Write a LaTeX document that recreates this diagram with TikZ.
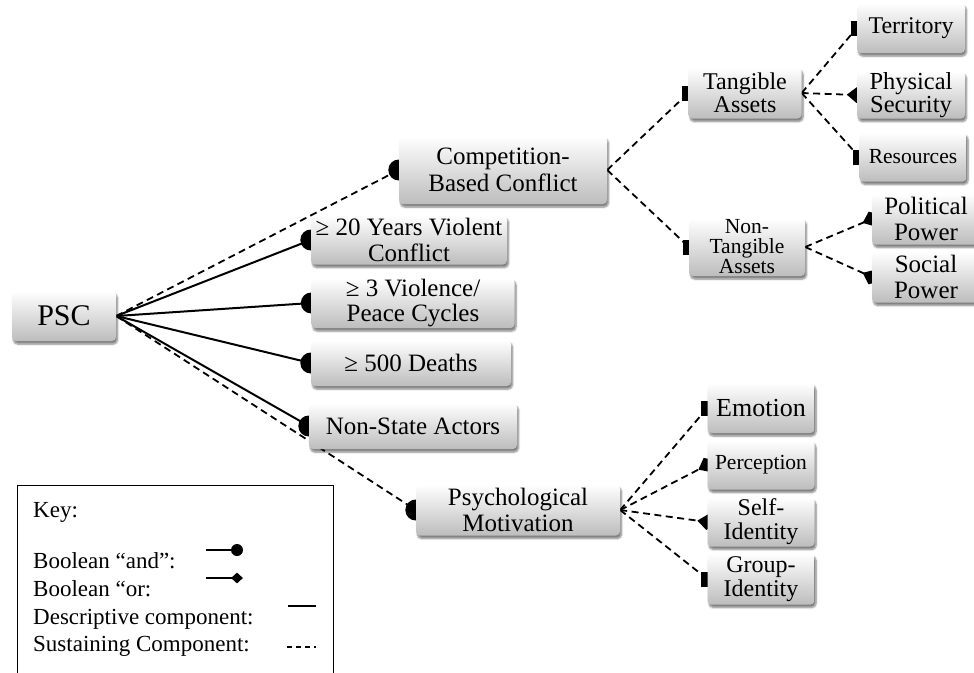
\documentclass[tikz,border=0pt]{standalone}
\usepackage{fontspec}
\setmainfont{Liberation Serif}
\usetikzlibrary{arrows.meta,shadows.blur,backgrounds,shapes.geometric}
\begin{document}
\begin{tikzpicture}[x=1pt,y=-1pt,
  box/.style={rounded corners=4pt, top color=white, bottom color=black!26,
    align=center, inner sep=1pt,
    blur shadow={shadow xshift=1.5pt, shadow yshift=-3pt, shadow blur steps=6, shadow opacity=50},
    font=\fontsize{25}{25.5}\selectfont},
  smallbox/.style={box, font=\fontsize{21.5}{20}\selectfont},
  descr/.style={line width=2pt},
  sust/.style={line width=1.8pt, dash pattern=on 7pt off 4.5pt},
  andbig/.style={circle, fill=black, minimum size=21pt, inner sep=0pt},
  andsmall/.style={rectangle, fill=black, minimum width=12pt, minimum height=15pt, inner sep=0pt},
  ortip/.style={-{Diamond[length=20pt,width=16pt]}, shorten >=-10pt},
  keytext/.style={anchor=base west, inner sep=0pt, font=\fontsize{23}{23}\selectfont}
]
\useasboundingbox (0,0) rectangle (974,672);
\clip (0,0) rectangle (974,672);

% boxes
\node[box, minimum width=104pt, minimum height=50pt, font=\fontsize{30}{30}\selectfont] (psc) at (64,316) {PSC};
\node[box, minimum width=208pt, minimum height=68pt, font=\fontsize{25}{27}\selectfont] (comp) at (503,170) {Competition-\\Based Conflict};
\node[box, minimum width=196pt, minimum height=49pt] (y20) at (409,240) {≥ 20 Years Violent\\Conflict};
\node[box, minimum width=203pt, minimum height=50pt] (y3) at (413,303) {≥ 3 Violence/\\Peace Cycles};
\node[box, minimum width=200pt, minimum height=46pt] (d500) at (411,363) {≥ 500 Deaths};
\node[box, minimum width=208pt, minimum height=46pt] (nsa) at (413,426) {Non-State Actors};
\node[box, minimum width=204pt, minimum height=51pt] (psych) at (518,510) {Psychological\\Motivation};
\node[box, minimum width=113pt, minimum height=51pt, font=\fontsize{24}{23}\selectfont] (tang) at (745,93) {Tangible\\Assets};
\node[smallbox, minimum width=116pt, minimum height=58pt] (ntang) at (747,247) {Non-\\Tangible\\Assets};
\node[box, minimum width=108pt, minimum height=50pt, font=\fontsize{24}{23}\selectfont] (terr) at (911,28) {Territory};
\node[box, minimum width=108pt, minimum height=47pt, font=\fontsize{24.5}{23}\selectfont] (phys) at (911,95) {Physical\\Security};
\node[smallbox, minimum width=107pt, minimum height=49pt] (res) at (913,157) {Resources};
\node[box, minimum width=108pt, minimum height=51pt] (pol) at (926,219) {Political\\Power};
\node[box, minimum width=108pt, minimum height=51pt] (soc) at (926,277) {Social\\Power};
\node[box, minimum width=107pt, minimum height=50pt, font=\fontsize{26}{25}\selectfont] (emo) at (761,408) {Emotion};
\node[smallbox, minimum width=107pt, minimum height=49pt] (perc) at (761,465) {Perception};
\node[box, minimum width=107pt, minimum height=49pt, font=\fontsize{24}{24}\selectfont] (self) at (761,522) {Self-\\Identity};
\node[box, minimum width=107pt, minimum height=51pt, font=\fontsize{24}{24}\selectfont] (grp) at (761,579) {Group-\\Identity};

% connectors and marks behind the boxes
\begin{scope}[on background layer]
  \draw[sust] (psc.east) -- (comp.west);
  \draw[descr] (psc.east) -- (y20.west);
  \draw[descr] (psc.east) -- (y3.west);
  \draw[descr] (psc.east) -- (d500.west);
  \draw[descr] (psc.east) -- (nsa.west);
  \draw[sust] (psc.east) -- (psych.west);
  \foreach \n in {comp,y20,y3,d500,nsa,psych} \node[andbig] at (\n.west) {};

  \draw[sust] (comp.east) -- (tang.west);
  \draw[sust] (comp.east) -- (ntang.west);
  \draw[sust] (tang.east) -- (terr.west);
  \draw[sust, ortip] (tang.east) -- (phys.west);
  \draw[sust] (tang.east) -- (res.west);
  \draw[sust, ortip] (ntang.east) -- (pol.west);
  \draw[sust, ortip] (ntang.east) -- (soc.west);
  \draw[sust] (psych.east) -- (emo.west);
  \draw[sust, ortip] (psych.east) -- (perc.west);
  \draw[sust, ortip] (psych.east) -- (self.west);
  \draw[sust] (psych.east) -- (grp.west);
  \foreach \n in {tang,ntang,terr,res,emo,grp} \node[andsmall] at (\n.west) {};
\end{scope}

% key
\draw[line width=1pt] (17,485) rectangle (333,690);
\node[keytext] (kkey) at (33,517) {Key:};
\node[keytext] (kand) at (33,568) {Boolean “and”:};
\node[keytext] (kor) at (33,596) {Boolean “or:};
\node[keytext] (kdes) at (33,624) {Descriptive component:};
\node[keytext] (ksus) at (33,651) {Sustaining Component:};
\coordinate (a1) at (206,550); \coordinate (a2) at (237,550);
\coordinate (o1) at (206,578); \coordinate (o2) at (237,578);
\coordinate (d1) at (288,606); \coordinate (d2) at (316,606);
\coordinate (s1) at (287,647); \coordinate (s2) at (316,647);
\draw[line width=1.8pt] (a1) -- (a2);
\fill (a2) circle (6pt);
\draw[line width=1.8pt] (o1) -- (o2);
\node[diamond, fill=black, minimum width=12pt, minimum height=11pt, inner sep=0pt] at (o2) {};
\draw[line width=1.8pt] (d1) -- (d2);
\draw[line width=1.6pt, dash pattern=on 5pt off 4pt] (s1) -- (s2);
\end{tikzpicture}
\end{document}
